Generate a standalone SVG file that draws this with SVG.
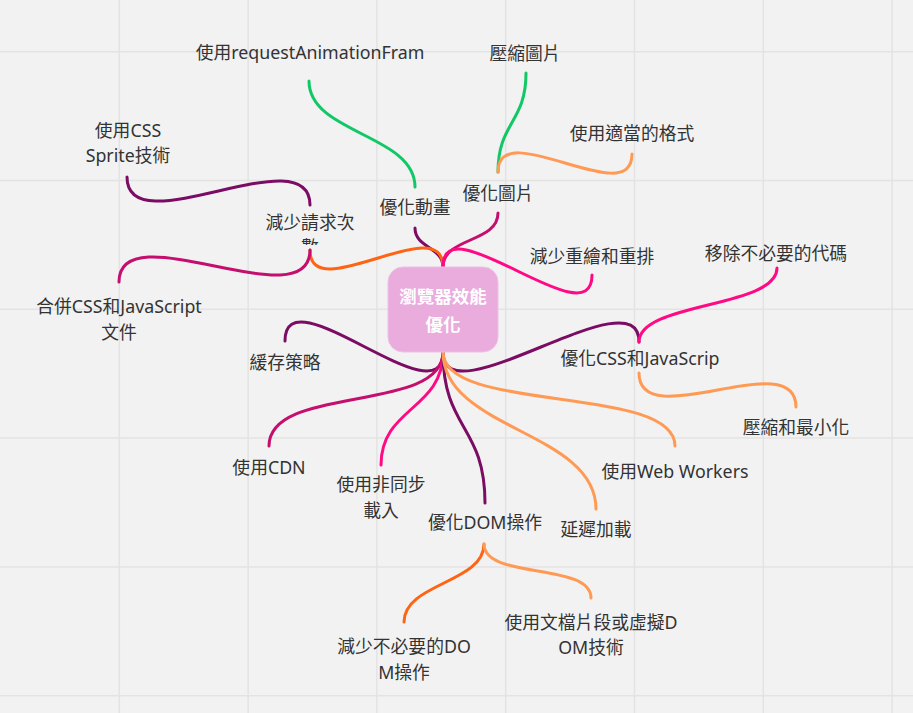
<svg xmlns="http://www.w3.org/2000/svg" width="913" height="713" viewBox="0 0 913 713">
<defs>
<style>
.grid line{stroke:#e3e3e3;stroke-width:1.5}
.c path{fill:none;stroke-width:3;stroke-linecap:round}
.pu{stroke:#7b0c64}
.dp{stroke:#c40f6e}
.hp{stroke:#ff0a84}
.or{stroke:#ff6414}
.lo{stroke:#ff9a55}
.gr{stroke:#10c866}
text{font-family:"Noto Sans","Noto Sans CJK TC",sans-serif;font-size:17.8px;fill:#333;text-anchor:middle}
.root text{fill:#fff;font-weight:bold;font-size:17.5px}
</style>
<clipPath id="clipShu"><rect x="280" y="230" width="60" height="15"/></clipPath>
</defs>
<rect width="913" height="713" fill="#f2f2f2"/>
<g class="grid">
<line x1="119.3" y1="0" x2="119.3" y2="713"/>
<line x1="248.1" y1="0" x2="248.1" y2="713"/>
<line x1="376.9" y1="0" x2="376.9" y2="713"/>
<line x1="505.7" y1="0" x2="505.7" y2="713"/>
<line x1="634.5" y1="0" x2="634.5" y2="713"/>
<line x1="763.3" y1="0" x2="763.3" y2="713"/>
<line x1="892.1" y1="0" x2="892.1" y2="713"/>
<line x1="0" y1="51.7" x2="913" y2="51.7"/>
<line x1="0" y1="180.5" x2="913" y2="180.5"/>
<line x1="0" y1="309.3" x2="913" y2="309.3"/>
<line x1="0" y1="438.1" x2="913" y2="438.1"/>
<line x1="0" y1="566.9" x2="913" y2="566.9"/>
<line x1="0" y1="695.7" x2="913" y2="695.7"/>
</g>
<g id="connectors" class="c">
<path class="pu" d="M443,267 C443,247 415,248 415,228"/>
<path class="gr" d="M415,187 C415,134 309,134 309,81"/>
<path class="dp" d="M443,267 C443,237 498,243 498,213"/>
<path class="gr" d="M498,172 C498,122 526,123 526,73"/>
<path class="lo" d="M498,172 C498,114 632,212 632,154"/>
<path class="or" d="M443,267 C443,209 310,308 310,250"/>
<path class="pu" d="M310,205 C310,135 127,247 127,177"/>
<path class="dp" d="M310,250 C310,321 119,211 119,282"/>
<path class="hp" d="M443,267 C443,202 592,340 592,275"/>
<path class="pu" d="M443,352 C443,422 285,271 285,341"/>
<path class="pu" d="M443,352 C443,422 639,272 639,342"/>
<path class="hp" d="M639,342 C639,302 777,308 777,268"/>
<path class="lo" d="M639,373 C639,436 796,344 796,407"/>
<path class="dp" d="M443,352 C443,414 269,384 269,446"/>
<path class="hp" d="M443,352 C443,410 381,407 381,465"/>
<path class="pu" d="M443,352 C443,430 485,425 485,503"/>
<path class="or" d="M484,544 C484,583 404,583 404,622"/>
<path class="lo" d="M484,544 C484,580 591,562 591,598"/>
<path class="lo" d="M443,352 C443,430 596,431 596,509"/>
<path class="lo" d="M443,352 C443,414 675,384 675,446"/>
</g>
<g id="root" class="root">
<rect x="388" y="267" width="110" height="85" rx="15" fill="#e9acdd" stroke="#eec0e6" stroke-width="1"/>
<text x="443" y="302.5">瀏覽器效能</text>
<text x="443" y="330.5">優化</text>
</g>
<g id="n-anim"><text x="415" y="213.5">優化動畫</text></g>
<g id="n-raf"><text x="310" y="58.5">使用requestAnimationFram</text></g>
<g id="n-img"><text x="498" y="199.5">優化圖片</text></g>
<g id="n-compress-img"><text x="525" y="59.5">壓縮圖片</text></g>
<g id="n-format"><text x="632" y="139.5">使用適當的格式</text></g>
<g id="n-requests"><text x="310" y="228.5">減少請求次</text><text x="310" y="254" clip-path="url(#clipShu)">數</text></g>
<g id="n-sprite"><text x="128" y="136.5">使用CSS</text><text x="128" y="161.5">Sprite技術</text></g>
<g id="n-merge"><text x="119" y="312.5">合併CSS和JavaScript</text><text x="119" y="338.5">文件</text></g>
<g id="n-reflow"><text x="592" y="262.5">減少重繪和重排</text></g>
<g id="n-cache"><text x="285" y="368.5">緩存策略</text></g>
<g id="n-cssjs"><text x="640" y="364.5">優化CSS和JavaScrip</text></g>
<g id="n-remove"><text x="776" y="259.5">移除不必要的代碼</text></g>
<g id="n-minify"><text x="796" y="433.5">壓縮和最小化</text></g>
<g id="n-cdn"><text x="269" y="473.5">使用CDN</text></g>
<g id="n-async"><text x="381" y="490.5">使用非同步</text><text x="381" y="516.5">載入</text></g>
<g id="n-dom"><text x="485" y="528.5">優化DOM操作</text></g>
<g id="n-lazy"><text x="596" y="535.5">延遲加載</text></g>
<g id="n-workers"><text x="675" y="477.5">使用Web Workers</text></g>
<g id="n-reduce-dom"><text x="404" y="652.5">減少不必要的DO</text><text x="404" y="678.5">M操作</text></g>
<g id="n-fragment"><text x="591" y="628.5">使用文檔片段或虛擬D</text><text x="591" y="653.5">OM技術</text></g>
</svg>
